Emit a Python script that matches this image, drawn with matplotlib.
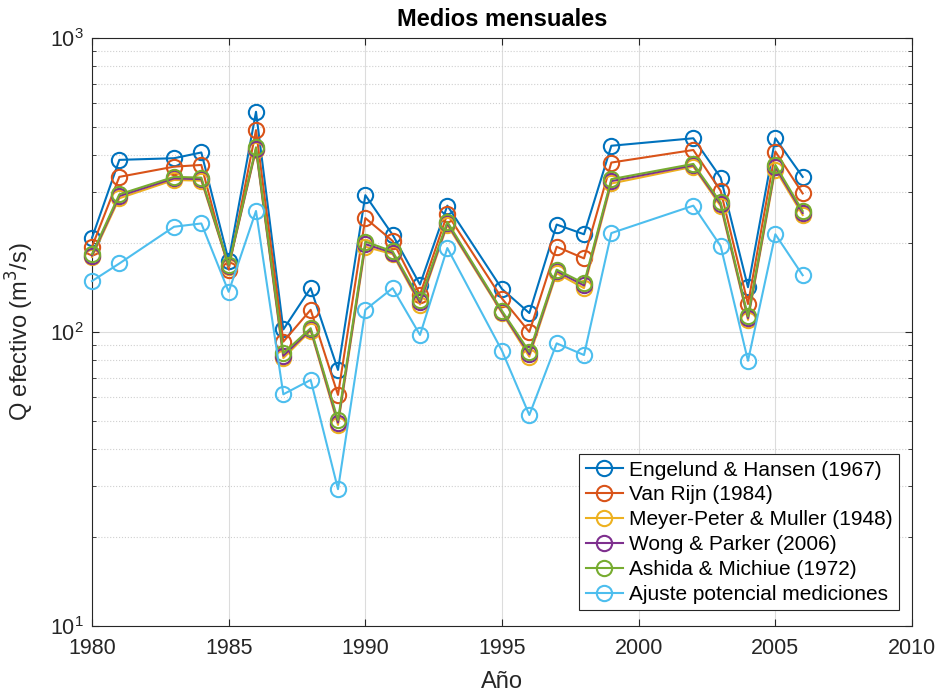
import matplotlib
matplotlib.use("Agg")
import matplotlib.pyplot as plt
from matplotlib.ticker import LogLocator, FixedLocator, NullFormatter

plt.rcParams['font.family'] = ['Liberation Sans', 'DejaVu Sans']

years = [1980, 1981, 1983, 1984, 1985, 1986, 1987, 1988, 1989, 1990, 1991, 1992,
         1993, 1995, 1996, 1997, 1998, 1999, 2002, 2003, 2004, 2005, 2006]

engelund = [209, 385, 390, 408, 175, 561, 102, 141, 74.3, 292, 214, 145,
            269, 140, 116, 232, 215, 430, 456, 335, 142, 456, 337]
van_rijn = [195, 337, 365, 370, 163, 486, 92.7, 119, 61.1, 244, 204, 134,
            252, 130, 100, 195, 178, 377, 416, 302, 124.5, 411, 296]
meyer_peter = [180, 285, 329, 327, 167, 416, 81.5, 101, 48.3, 195, 184, 124,
               231, 116, 82.4, 158.5, 141, 320, 365, 268, 110, 357, 250]
wong_parker = [182, 290, 333, 331, 168, 420, 83, 102, 49.2, 199, 186, 126,
               234, 117, 84, 161, 144, 326, 369, 272, 111.5, 364, 254]
ashida = [184, 294, 337, 335, 169, 425, 84.7, 103, 50.2, 203, 188, 128.4,
          237, 118, 85.7, 163, 146.5, 331, 373, 276, 113, 370, 258]
ajuste = [149, 171, 228, 234, 137, 258, 61.4, 68.7, 29.2, 119, 141, 97.7,
          193, 86.3, 52.2, 91.5, 83.5, 217, 269, 196, 79.8, 215, 156]

labels = ['Engelund & Hansen (1967)', 'Van Rijn (1984)', 'Meyer-Peter & Muller (1948)',
          'Wong & Parker (2006)', 'Ashida & Michiue (1972)', 'Ajuste potencial mediciones']
series = [engelund, van_rijn, meyer_peter, wong_parker, ashida, ajuste]
colors = ['#0072BD', '#D95319', '#EDB120', '#7E2F8E', '#77AC30', '#4DBEEE']

fig = plt.figure(figsize=(9.4, 6.95), dpi=100)
ax = fig.add_axes([92/940, 1 - 626/695, 820/940, 588/695])

for s, lab, c in zip(series, labels, colors):
    ax.plot(years, s, '-o', color=c, label=lab, lw=1.5, markersize=11,
            markerfacecolor='none', markeredgewidth=1.5, clip_on=False, zorder=3)

ax.set_yscale('log')
ax.set_xlim(1980, 2010)
ax.set_ylim(10, 1000)
ax.set_xticks([1980, 1985, 1990, 1995, 2000, 2005, 2010])
ax.yaxis.set_major_locator(FixedLocator([10, 100, 1000]))
ax.yaxis.set_minor_locator(LogLocator(base=10, subs=range(2, 10)))
ax.yaxis.set_minor_formatter(NullFormatter())

ax.grid(True, which='major', color='#dcdcdc', lw=0.8, ls='-')
ax.grid(True, which='minor', axis='y', color='#d0d0d0', lw=0.8, ls=':')
ax.set_axisbelow(True)

ax.tick_params(which='both', direction='in', top=True, right=True, labelsize=15.5,
               colors='#262626')
ax.tick_params(axis='x', pad=9)
ax.tick_params(axis='y', pad=6)
ax.tick_params(which='major', length=5)
ax.tick_params(which='minor', length=3)
for sp in ax.spines.values():
    sp.set_color('#262626')
    sp.set_linewidth(0.8)

ax.set_title('Medios mensuales', fontsize=17, fontweight='bold', pad=9)
ax.set_xlabel('Año', fontsize=17, color='#262626', labelpad=8)
ax.set_ylabel('Q efectivo (m$^3$/s)', fontsize=17, color='#262626', labelpad=10)

leg = ax.legend(loc='lower right', bbox_to_anchor=(0.9895, 0.02), fontsize=15,
                frameon=True, fancybox=False, edgecolor='#262626', framealpha=1,
                handlelength=1.8, handletextpad=0.3, borderpad=0.3, labelspacing=0.28,
                borderaxespad=0.2)
leg.get_frame().set_linewidth(0.8)
leg.set_zorder(5)

fig.savefig('out.png', dpi=100)
